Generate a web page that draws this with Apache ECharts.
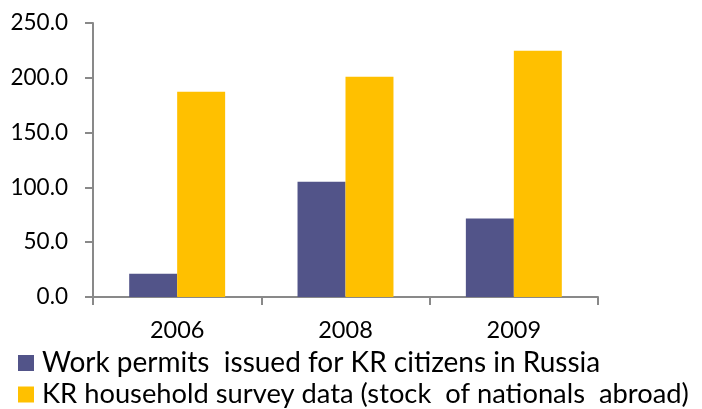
<!DOCTYPE html>
<html><head><meta charset="utf-8">
<script src="https://cdn.jsdelivr.net/npm/echarts@6/dist/echarts.min.js"></script>
<style>html,body{margin:0;padding:0;background:#fff}#c{width:702px;height:409px}</style>
</head><body><div id="c"></div>
<script>
const categories = ['2006', '2008', '2009'];
const workPermits = [21.3, 105.2, 71.7];
const surveyData = [187.3, 201.0, 224.7];
const yTicks = {min: 0, max: 250, interval: 50};
const seriesNames = ['Work permits  issued for KR citizens in Russia', 'KR household survey data (stock  of nationals  abroad)'];
const FONT = 'Lato';
const legendText1 = {fontFamily: FONT, fontSize: 28, color: '#000', padding: [0, 0, 0, 3]};
const legendText2 = {fontFamily: FONT, fontSize: 27.3, color: '#000', padding: [0, 0, 0, 3]};
const chart = echarts.init(document.getElementById('c'), null, {renderer: 'canvas'});
chart.setOption({
  animation: false,
  backgroundColor: '#ffffff',
  grid: {left: 93, right: 104, top: 23, bottom: 112, containLabel: false},
  legend: [
    {left: 18, top: 349, orient: 'vertical', padding: 0, itemWidth: 16, itemHeight: 16, icon: 'rect',
     textStyle: legendText1, data: [seriesNames[0]], selectedMode: false},
    {left: 18, top: 381, orient: 'vertical', padding: 0, itemWidth: 16, itemHeight: 16, icon: 'rect',
     textStyle: legendText2, data: [seriesNames[1]], selectedMode: false}
  ],
  xAxis: {
    type: 'category', data: categories,
    axisLine: {lineStyle: {color: '#898989', width: 2}},
    axisTick: {show: true, length: 8, lineStyle: {color: '#898989', width: 2}},
    axisLabel: {fontFamily: FONT, fontSize: 23.5, color: '#000', margin: 21}
  },
  yAxis: {
    type: 'value', min: yTicks.min, max: yTicks.max, interval: yTicks.interval,
    axisLine: {show: true, lineStyle: {color: '#898989', width: 2}},
    axisTick: {show: true, length: 8, lineStyle: {color: '#898989', width: 2}},
    splitLine: {show: false},
    axisLabel: {fontFamily: FONT, fontSize: 22.5, color: '#000', margin: 25,
      formatter: v => v.toFixed(1)}
  },
  series: [
    {name: seriesNames[0], type: 'bar', data: workPermits, barWidth: '28.5%', barGap: '0%',
     itemStyle: {color: '#525489'}},
    {name: seriesNames[1], type: 'bar', data: surveyData, barWidth: '28.5%', barGap: '0%',
     itemStyle: {color: '#FFC000'}}
  ]
});
</script></body></html>
